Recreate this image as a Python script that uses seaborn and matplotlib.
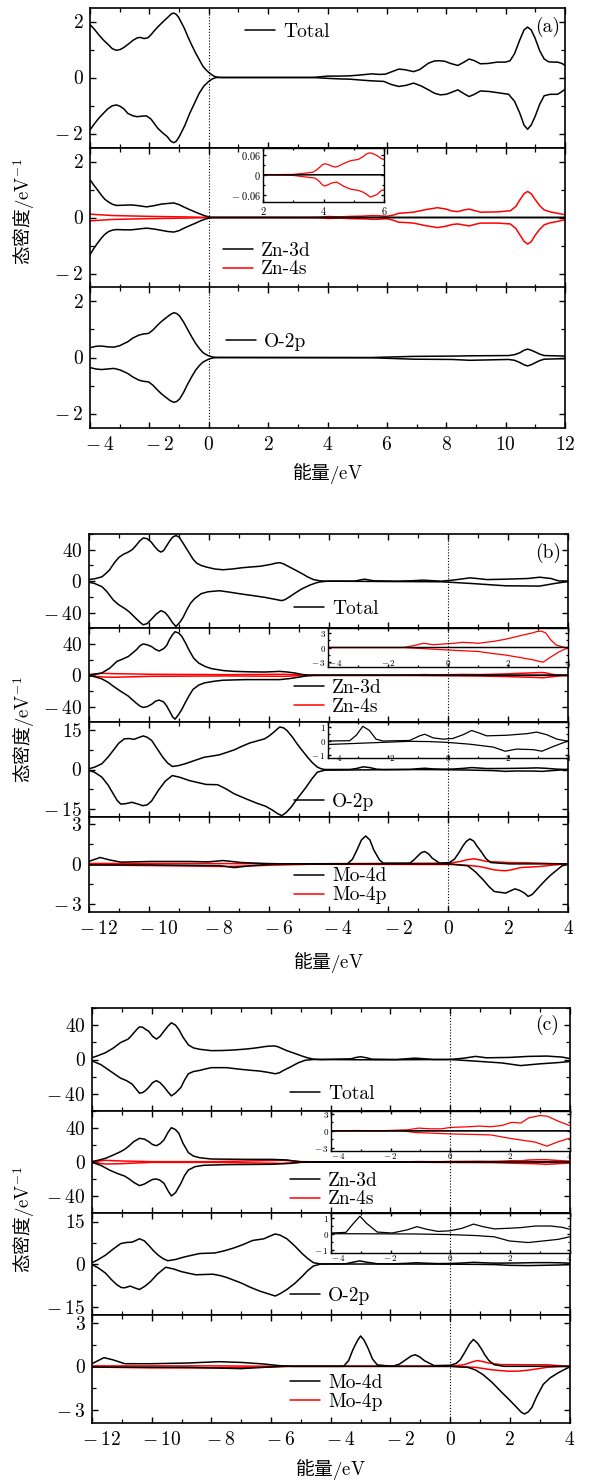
"""Spin-resolved DOS, panels (a)-(c)"""
import matplotlib
matplotlib.use('Agg')
import pandas as pd
import matplotlib.pyplot as plt
import seaborn as sns
from matplotlib.lines import Line2D
from matplotlib.ticker import MultipleLocator, FuncFormatter
from matplotlib.transforms import ScaledTranslation

# ---------------- data: (energy eV, DOS) ----------------
# panel (a)
a_tot_up = [(-4.0,1.89),(-3.85,1.72),(-3.7,1.52),(-3.55,1.34),(-3.4,1.19),(-3.25,1.03),(-3.11,0.97),(-2.98,1.0),
            (-2.85,1.08),(-2.7,1.2),(-2.55,1.33),(-2.4,1.42),(-2.3,1.43),(-2.18,1.39),(-2.05,1.42),(-1.95,1.52),
            (-1.85,1.65),(-1.72,1.80),(-1.6,1.93),(-1.46,2.07),(-1.35,2.18),(-1.25,2.28),(-1.18,2.30),(-1.1,2.26),
            (-1.02,2.16),(-0.93,1.98),(-0.82,1.75),(-0.7,1.45),(-0.57,1.15),(-0.44,0.87),(-0.3,0.6),(-0.19,0.39),
            (-0.08,0.26),(0.0,0.18),(0.1,0.1),(0.19,0.04),(0.3,0.01),(0.44,0.0),(3.5,0.0),(3.8,0.03),(4.0,0.05),
            (4.4,0.05),(4.76,0.06),(5.1,0.09),(5.5,0.13),(5.75,0.11),(5.95,0.12),(6.2,0.22),(6.4,0.3),(6.6,0.28),
            (6.9,0.21),(7.1,0.28),(7.4,0.51),(7.6,0.59),(7.75,0.6),(7.95,0.58),(8.15,0.5),(8.39,0.43),(8.6,0.55),
            (8.77,0.66),(8.95,0.6),(9.15,0.49),(9.4,0.5),(9.72,0.55),(10.0,0.55),(10.15,0.6),(10.3,0.85),
            (10.48,1.35),(10.62,1.7),(10.74,1.8),(10.86,1.7),(10.99,1.41),(11.15,0.95),(11.3,0.66),(11.45,0.56),
            (11.6,0.55),(11.75,0.55),(11.9,0.5),(12.0,0.43)]
a_tot_dn = [(-4.0,-1.87),(-3.85,-1.65),(-3.7,-1.45),(-3.55,-1.28),(-3.4,-1.12),(-3.25,-1.01),(-3.11,-0.98),
            (-2.98,-1.03),(-2.85,-1.13),(-2.73,-1.28),(-2.55,-1.37),(-2.41,-1.40),(-2.25,-1.38),(-2.1,-1.37),
            (-1.95,-1.48),(-1.85,-1.62),(-1.72,-1.81),(-1.55,-1.98),(-1.4,-2.11),(-1.28,-2.27),(-1.18,-2.33),
            (-1.1,-2.28),(-1.02,-2.16),(-0.93,-1.98),(-0.8,-1.7),(-0.64,-1.28),(-0.48,-0.92),(-0.32,-0.56),
            (-0.16,-0.3),(0.0,-0.14),(0.12,-0.05),(0.25,0.0),(3.5,0.0),(4.0,-0.03),(4.4,-0.05),(4.76,-0.06),
            (5.1,-0.09),(5.5,-0.12),(5.9,-0.14),(6.15,-0.25),(6.4,-0.32),(6.65,-0.28),(6.9,-0.2),(7.15,-0.3),
            (7.4,-0.44),(7.6,-0.56),(7.8,-0.62),(8.0,-0.6),(8.2,-0.52),(8.39,-0.44),(8.6,-0.58),(8.77,-0.68),
            (8.95,-0.6),(9.15,-0.48),(9.45,-0.5),(9.72,-0.54),(10.1,-0.6),(10.3,-0.85),(10.48,-1.28),(10.62,-1.7),
            (10.74,-1.85),(10.86,-1.7),(10.99,-1.4),(11.15,-0.95),(11.3,-0.65),(11.5,-0.6),(11.75,-0.6),
            (11.9,-0.5),(12.0,-0.42)]
a_zn3d_up = [(-4.0,1.35),(-3.88,1.17),(-3.75,0.99),(-3.62,0.8),(-3.5,0.65),(-3.37,0.55),(-3.24,0.47),(-3.11,0.43),
             (-2.85,0.44),(-2.6,0.45),(-2.35,0.42),(-2.1,0.38),(-1.85,0.42),(-1.59,0.48),(-1.38,0.5),(-1.18,0.52),
             (-1.0,0.46),(-0.83,0.37),(-0.64,0.28),(-0.44,0.19),(-0.28,0.12),(-0.13,0.06),(0.06,0.01),(0.3,0.0),
             (12.0,0.0)]
a_zn3d_dn = [(-4.0,-1.33),(-3.88,-1.12),(-3.75,-0.92),(-3.62,-0.74),(-3.5,-0.6),(-3.37,-0.5),(-3.24,-0.45),
             (-3.11,-0.43),(-2.85,-0.44),(-2.6,-0.44),(-2.35,-0.41),(-2.1,-0.38),(-1.85,-0.41),(-1.59,-0.46),
             (-1.38,-0.5),(-1.18,-0.52),(-1.0,-0.47),(-0.83,-0.38),(-0.64,-0.29),(-0.44,-0.2),(-0.28,-0.12),
             (-0.13,-0.06),(0.06,-0.01),(0.3,0.0),(12.0,0.0)]
a_zn4s_up = [(-4.0,0.12),(-3.24,0.07),(-1.97,0.04),(-0.7,0.02),(0.0,0.0),(2.0,0.0),(3.0,0.001),(3.33,0.004),
             (3.66,0.008),(3.78,0.015),(3.88,0.023),(3.96,0.03),(4.04,0.033),(4.15,0.031),(4.27,0.026),(4.4,0.023),
             (4.52,0.027),(4.65,0.033),(4.8,0.039),(4.93,0.043),(5.15,0.046),(5.3,0.054),(5.43,0.063),(5.54,0.066),
             (5.65,0.063),(5.76,0.058),(5.92,0.048),(6.0,0.046),(6.2,0.08),(6.4,0.15),(6.65,0.17),(6.9,0.19),
             (7.3,0.28),(7.7,0.35),(8.0,0.3),(8.2,0.23),(8.39,0.21),(8.6,0.27),(8.77,0.3),(8.95,0.25),(9.15,0.19),
             (9.72,0.2),(10.16,0.24),(10.35,0.4),(10.48,0.63),(10.62,0.85),(10.74,0.93),(10.86,0.85),(10.99,0.65),
             (11.15,0.42),(11.3,0.27),(11.5,0.2),(11.75,0.15),(12.0,0.1)]
a_zn4s_dn = [(-4.0,-0.12),(-3.24,-0.07),(-1.97,-0.04),(-0.7,-0.02),(0.0,0.0),(2.0,0.0),(3.0,-0.002),(3.44,-0.007),
             (3.72,-0.01),(3.8,-0.015),(3.88,-0.022),(3.96,-0.03),(4.04,-0.034),(4.15,-0.03),(4.27,-0.025),
             (4.43,-0.022),(4.55,-0.028),(4.65,-0.034),(4.8,-0.04),(4.93,-0.044),(5.15,-0.047),(5.3,-0.052),
             (5.43,-0.059),(5.54,-0.067),(5.65,-0.064),(5.76,-0.06),(5.92,-0.047),(6.0,-0.045),(6.2,-0.09),
             (6.4,-0.17),(6.65,-0.18),(6.9,-0.2),(7.3,-0.29),(7.7,-0.36),(8.0,-0.31),(8.2,-0.25),(8.39,-0.23),
             (8.6,-0.27),(8.77,-0.3),(8.95,-0.25),(9.15,-0.2),(9.72,-0.2),(10.16,-0.23),(10.35,-0.4),(10.48,-0.62),
             (10.62,-0.85),(10.74,-0.95),(10.86,-0.87),(10.99,-0.64),(11.15,-0.42),(11.3,-0.26),(11.5,-0.19),
             (11.75,-0.14),(12.0,-0.08)]
a_o2p_up = [(-4.0,0.35),(-3.8,0.4),(-3.62,0.41),(-3.4,0.38),(-3.2,0.37),(-3.0,0.42),(-2.85,0.5),(-2.73,0.56),
            (-2.55,0.7),(-2.35,0.8),(-2.2,0.84),(-2.03,0.86),(-1.88,0.98),(-1.72,1.16),(-1.6,1.28),(-1.46,1.4),
            (-1.3,1.53),(-1.18,1.6),(-1.08,1.57),(-0.98,1.48),(-0.85,1.27),(-0.7,0.98),(-0.57,0.73),(-0.44,0.5),
            (-0.3,0.3),(-0.19,0.17),(-0.08,0.1),(0.0,0.06),(0.12,0.02),(0.25,0.0),(5.5,0.0),(6.9,0.04),(8.2,0.05),
            (8.8,0.06),(10.1,0.07),(10.3,0.1),(10.48,0.17),(10.62,0.26),(10.74,0.3),(10.86,0.26),(10.99,0.2),
            (11.15,0.12),(11.3,0.07),(12.0,0.05)]
a_o2p_dn = [(-4.0,-0.36),(-3.8,-0.41),(-3.62,-0.43),(-3.4,-0.41),(-3.2,-0.39),(-3.0,-0.44),(-2.85,-0.51),
            (-2.73,-0.57),(-2.55,-0.7),(-2.35,-0.81),(-2.2,-0.85),(-2.03,-0.87),(-1.88,-0.99),(-1.72,-1.17),
            (-1.6,-1.29),(-1.46,-1.41),(-1.3,-1.54),(-1.18,-1.6),(-1.08,-1.57),(-0.98,-1.48),(-0.85,-1.25),
            (-0.7,-0.93),(-0.57,-0.68),(-0.44,-0.45),(-0.3,-0.27),(-0.19,-0.16),(-0.08,-0.1),(0.0,-0.06),
            (0.12,-0.02),(0.25,0.0),(5.5,-0.01),(6.9,-0.06),(8.2,-0.07),(8.8,-0.1),(10.1,-0.07),(10.3,-0.1),
            (10.48,-0.18),(10.62,-0.26),(10.74,-0.3),(10.86,-0.26),(10.99,-0.19),(11.15,-0.11),(11.3,-0.06),
            (12.0,-0.04)]

# panel (b)
b_tot_up = [(-12.0,2),(-11.8,3),(-11.56,5.5),(-11.45,9),(-11.31,14),(-11.15,23),(-11.0,30),(-10.85,34),(-10.68,37),
            (-10.55,40),(-10.43,45),(-10.3,51),(-10.18,55),(-10.05,54),(-9.92,50),(-9.8,44),(-9.68,39),(-9.59,37),
            (-9.5,39),(-9.4,45),(-9.3,51),(-9.2,56),(-9.09,58),(-8.98,56),(-8.88,50),(-8.78,44),(-8.65,36),
            (-8.52,28),(-8.4,23),(-8.25,20),(-8.08,18),(-7.8,15.5),(-7.52,14.5),(-7.2,15.5),(-6.9,17),(-6.6,18),
            (-6.27,19),(-5.9,21.5),(-5.75,23),(-5.63,23.5),(-5.5,22),(-5.35,19),(-5.2,16),(-5.05,13),(-4.88,9.5),
            (-4.7,5.5),(-4.5,2),(-4.3,0.5),(-4.12,0),(-3.12,0),(-2.95,1.5),(-2.8,2.5),(-2.65,1.5),(-2.49,0.4),
            (-1.73,0),(-1.2,0.5),(-0.85,1.3),(-0.5,0.5),(-0.23,0),(0.15,1.3),(0.45,2.8),(0.72,4.2),(1.0,3.2),
            (1.28,2),(1.9,2.5),(2.66,3.4),(3.04,5),(3.42,3.4),(3.67,0.4),(4.0,0)]
b_tot_dn = [(-12.0,-1.3),(-11.8,-3),(-11.56,-7),(-11.4,-13),(-11.18,-24),(-11.0,-30),(-10.81,-34.5),(-10.65,-39),
            (-10.49,-45),(-10.3,-52),(-10.18,-55.6),(-10.05,-54),(-9.92,-49),(-9.75,-42),(-9.59,-37.5),(-9.45,-40),
            (-9.34,-45),(-9.2,-53),(-9.09,-57.7),(-8.95,-52),(-8.85,-46),(-8.72,-36),(-8.6,-28),(-8.46,-22),
            (-8.25,-16),(-8.02,-13.5),(-7.64,-12.2),(-7.3,-14),(-6.9,-16.4),(-6.5,-18.5),(-6.13,-20.6),(-5.8,-23),
            (-5.56,-24.8),(-5.45,-23.5),(-5.3,-20),(-5.13,-15.6),(-4.9,-10),(-4.62,-5),(-4.4,-2),(-4.25,-0.8),
            (-4.0,0),(-2.36,-0.4),(-0.23,-0.8),(0.78,-3),(1.9,-5.9),(3.04,-6.3),(3.54,-3),(4.0,-0.4)]
b_zn3d_up = [(-12.0,0.8),(-11.8,1.5),(-11.56,3),(-11.3,9),(-11.06,17.7),(-10.85,21),(-10.68,24),(-10.55,28),
             (-10.4,33),(-10.28,38),(-10.18,40),(-10.05,39),(-9.9,36.6),(-9.77,33),(-9.65,31),(-9.5,34),(-9.4,38),
             (-9.3,46),(-9.2,52),(-9.12,55.6),(-9.0,54),(-8.9,50),(-8.78,42),(-8.65,32),(-8.5,22),(-8.33,15.6),
             (-8.1,11),(-7.89,8.4),(-7.5,6),(-7.14,5),(-6.6,4.4),(-6.13,4.2),(-5.85,4.6),(-5.63,5),(-5.4,4.3),
             (-5.13,3),(-4.9,1.2),(-4.62,0),(4.0,0)]
b_zn3d_dn = [(-12.0,-0.4),(-11.8,-1.8),(-11.56,-4.6),(-11.35,-9),(-11.18,-13.9),(-10.95,-20),(-10.68,-26.5),
             (-10.55,-31),(-10.4,-36),(-10.28,-39.5),(-10.18,-41),(-10.05,-40),(-9.9,-37),(-9.77,-33),(-9.65,-31.6),
             (-9.5,-34),(-9.4,-39),(-9.3,-46),(-9.2,-53),(-9.12,-56),(-9.0,-50),(-8.9,-44),(-8.78,-35),(-8.65,-26),
             (-8.52,-18),(-8.33,-12.5),(-8.14,-9.7),(-7.8,-7.5),(-7.52,-6.3),(-6.77,-5.5),(-5.63,-5.5),(-5.3,-4.2),
             (-5.0,-2.5),(-4.75,-0.8),(-4.5,0),(4.0,0)]
b_zn4s_up = [(-12.0,0.4),(-11.56,2.5),(-11.18,2.1),(-9.9,1.3),(-7.4,0.8),(-5.5,1.3),(-4.88,0.4),(-4.0,0),(-1.5,0),
             (-1.15,0.4),(-0.82,0.9),(-0.5,0.6),(-0.1,0.77),(0.2,0.9),(0.46,1.1),(0.8,1.0),(1.0,0.9),(1.5,1.3),
             (1.9,1.75),(2.45,2.6),(2.8,3.1),(2.95,3.4),(3.1,3.5),(3.25,3.1),(3.4,1.75),(3.6,0.5),(3.9,0),(4.0,0)]
b_zn4s_dn = [(-12.0,-0.4),(-11.56,-2.1),(-11.18,-2.5),(-9.9,-1.3),(-7.4,-0.8),(-5.5,-1.3),(-4.88,-0.4),(-4.0,0),
             (-1.5,0),(-0.93,-0.2),(-0.1,-0.5),(0.5,-0.7),(1.0,-0.85),(1.5,-1.3),(1.9,-1.6),(2.45,-2.2),(2.8,-2.6),
             (3.16,-3.15),(3.4,-2.1),(3.7,-0.9),(4.0,0)]
b_o2p_up = [(-12.0,0.25),(-11.8,0.9),(-11.56,2.2),(-11.35,4.8),(-11.18,7.3),(-11.0,10),(-10.81,11.7),(-10.65,11.8),
            (-10.49,11.5),(-10.33,12.2),(-10.18,12.8),(-10.05,12.3),(-9.9,11.1),(-9.72,8),(-9.53,4.7),(-9.37,2.5),
            (-9.21,1.15),(-9.0,1.5),(-8.78,2.2),(-8.45,3.5),(-8.14,4.7),(-7.9,5.1),(-7.64,5.6),(-7.4,6.5),(-7.14,7.5),
            (-6.9,8.8),(-6.63,10.1),(-6.38,10.9),(-6.13,11.7),(-5.98,12.8),(-5.85,14),(-5.72,15.3),(-5.63,16.2),
            (-5.5,15.9),(-5.38,14.8),(-5.2,12.3),(-5.05,9.8),(-4.88,7.3),(-4.7,4.7),(-4.53,2.5),(-4.37,0.9),
            (-4.25,0.3),(-4.12,0),(-3.28,0.02),(-3.06,0.4),(-2.84,1.02),(-2.62,0.73),(-2.4,0.13),(-2.17,0),
            (-1.28,0.04),(-0.95,0.36),(-0.78,0.47),(-0.5,0.22),(-0.17,0.13),(0.16,0.18),(0.5,0.44),(0.78,0.73),
            (1.0,0.58),(1.28,0.36),(1.95,0.4),(2.62,0.51),(2.95,0.62),(3.28,0.44),(3.62,0.13),(3.9,0.02),(4.0,0)]
b_o2p_dn = [(-12.0,-0.25),(-11.8,-1.1),(-11.56,-2.9),(-11.35,-6),(-11.18,-9.3),(-11.05,-11.8),(-10.93,-13.2),
            (-10.75,-13),(-10.56,-12.5),(-10.35,-13.2),(-10.2,-13.8),(-10.05,-13.5),(-9.9,-12),(-9.68,-8),
            (-9.45,-4.5),(-9.21,-2.3),(-8.95,-3),(-8.65,-4.2),(-8.35,-5),(-8.08,-5.7),(-7.7,-5.8),(-7.45,-7.2),
            (-7.14,-9.3),(-6.75,-11.2),(-6.38,-12.9),(-6.1,-14),(-5.87,-15.5),(-5.7,-16.8),(-5.56,-17.6),
            (-5.42,-16.5),(-5.25,-14.4),(-5.0,-10.5),(-4.75,-6.8),(-4.55,-3.5),(-4.37,-1),(-4.12,-0.25),
            (-1.28,-0.02),(-0.62,-0.04),(-0.06,-0.09),(0.72,-0.22),(1.5,-0.42),(1.9,-0.71),(2.28,-0.56),
            (2.84,-0.6),(3.12,-0.71),(3.5,-0.38),(3.84,-0.11),(4.0,0)]
b_mo4d_up = [(-12.0,0.18),(-11.62,0.48),(-11.31,0.3),(-10.93,0.13),(-9.9,0.18),(-8.65,0.18),(-8.02,0.15),(-7.52,0.25),
             (-6.9,0.1),(-6.13,0.03),(-5.5,0),(-3.37,0),(-3.2,0.35),(-3.05,1.05),(-2.9,1.8),(-2.76,2.1),(-2.62,1.8),
             (-2.49,1.05),(-2.3,0.3),(-2.17,0.05),(-1.29,0.05),(-1.15,0.3),(-1.04,0.55),(-0.9,0.85),(-0.79,0.93),
             (-0.66,0.75),(-0.54,0.43),(-0.29,0.05),(0.03,0.1),(0.2,0.35),(0.34,0.8),(0.5,1.4),(0.6,1.7),(0.72,1.88),
             (0.85,1.7),(0.95,1.35),(1.09,0.93),(1.25,0.4),(1.41,0.1),(2.04,0),(4.0,0)]
b_mo4d_dn = [(-12.0,-0.08),(-9.9,-0.08),(-7.64,-0.13),(-7.14,-0.28),(-6.63,-0.15),(-5.88,-0.03),(-5.5,0),(0.03,0),
             (0.65,-0.15),(0.9,-0.6),(1.16,-1.2),(1.35,-1.7),(1.53,-2.08),(1.75,-2.15),(1.91,-2.2),(2.05,-2.05),
             (2.22,-1.88),(2.38,-2.0),(2.54,-2.2),(2.66,-2.45),(2.8,-2.3),(3.04,-1.7),(3.25,-1.2),(3.42,-0.83),
             (3.6,-0.5),(3.79,-0.15),(4.0,-0.03)]
b_mo4p_up = [(-12.0,0.03),(-8.0,0.03),(-5.5,0),(-0.48,0.05),(0.1,0.08),(0.4,0.18),(0.6,0.3),(0.84,0.38),(1.05,0.3),
             (1.28,0.18),(2.0,0.1),(2.66,0.08),(3.5,0.02),(4.0,0)]
b_mo4p_dn = [(-12.0,-0.08),(-9.9,-0.13),(-7.4,-0.2),(-5.88,-0.1),(-4.6,-0.03),(0.15,-0.05),(0.6,-0.1),(1.03,-0.2),
             (1.3,-0.33),(1.53,-0.45),(1.75,-0.5),(1.91,-0.52),(2.1,-0.45),(2.41,-0.28),(3.04,-0.2),(3.54,-0.08),(4.0,0)]

# panel (c)
c_tot_up = [(-12.0,2),(-11.8,4.5),(-11.55,7.9),(-11.3,13),(-11.04,19.8),(-10.9,22),(-10.79,23.8),(-10.7,27),
            (-10.6,31),(-10.5,35),(-10.41,38),(-10.3,37.5),(-10.2,35),(-10.1,32.9),(-9.97,27),(-9.84,23.8),
            (-9.72,27),(-9.59,32.9),(-9.45,39),(-9.34,42.8),(-9.2,40),(-9.09,34.9),(-8.95,26),(-8.77,17),
            (-8.6,13.5),(-8.39,11.9),(-8.0,10.3),(-7.6,10.5),(-7.25,11.1),(-6.9,12),(-6.62,13),(-6.4,14),(-6.22,15),
            (-6.05,15.6),(-5.9,15.8),(-5.78,15),(-5.65,13),(-5.47,10.3),(-5.2,7),(-4.96,4),(-4.78,2),(-4.58,0.4),
            (-4.33,0),(-3.32,0.8),(-3.15,2.4),(-3.0,3.2),(-2.8,2),(-2.62,0.4),(-1.8,0),(-1.17,1.6),(-0.54,0),
            (0.0,0),(0.47,1.6),(0.85,3.6),(1.22,2),(1.98,2.4),(2.61,3.6),(3.24,4),(3.75,2.8),(4.0,1.2)]
c_tot_dn = [(-12.0,-1.6),(-11.7,-6),(-11.42,-12.7),(-11.2,-18),(-11.04,-21.8),(-10.85,-24.5),(-10.66,-28.5),
            (-10.53,-34),(-10.41,-39.2),(-10.3,-38.5),(-10.2,-36),(-10.1,-32.5),(-9.97,-27),(-9.84,-24.6),
            (-9.72,-27),(-9.59,-31.7),(-9.45,-38),(-9.34,-42.4),(-9.2,-39),(-9.02,-32.5),(-8.9,-24),(-8.77,-16.6),
            (-8.6,-14),(-8.39,-12.7),(-8.2,-11),(-8.0,-9.5),(-7.5,-9.5),(-7.0,-11.5),(-6.7,-12.5),(-6.37,-13.5),
            (-6.1,-15),(-5.86,-16.6),(-5.72,-15.5),(-5.6,-13),(-5.35,-8.7),(-5.1,-4),(-4.85,-0.8),(-4.58,0),
            (-2.44,-0.4),(0.0,0),(0.72,-1.6),(1.73,-4),(2.36,-7.1),(2.99,-5.1),(3.62,-3.6),(4.0,-2.4)]
c_zn3d_up = [(-12.0,0.4),(-11.8,2),(-11.55,4.3),(-11.3,8),(-11.04,12.2),(-10.9,15),(-10.79,18),(-10.6,24),
             (-10.41,27.8),(-10.25,27),(-10.1,24),(-9.97,20.5),(-9.84,19.2),(-9.72,21.5),(-9.59,25.9),(-9.45,35),
             (-9.34,40.4),(-9.2,38),(-9.09,33.7),(-8.95,22),(-8.77,11),(-8.6,7),(-8.39,5),(-8.0,3.5),(-6.86,3.1),
             (-5.98,3.1),(-5.47,2.4),(-5.2,1),(-4.96,0),(4.0,0)]
c_zn3d_dn = [(-12.0,-0.4),(-11.7,-4),(-11.42,-9.4),(-11.15,-13.5),(-10.91,-16.5),(-10.75,-20),(-10.6,-24),
             (-10.41,-27.8),(-10.25,-26),(-10.1,-23),(-9.97,-20.5),(-9.84,-20),(-9.72,-21.5),(-9.59,-25),(-9.45,-34),
             (-9.34,-40),(-9.2,-36),(-9.02,-25),(-8.9,-16),(-8.77,-9.4),(-8.55,-5.5),(-8.26,-3.9),(-7.5,-3.1),
             (-5.98,-2.7),(-5.34,-1.6),(-4.96,0),(4.0,0)]
c_zn4s_up = [(-12.0,0.4),(-11.55,2),(-11.04,1.2),(-10.0,0.4),(-8.0,0.4),(-5.6,2),(-4.96,0.4),(-4.0,0),(-3.1,0.06),
             (-2.45,0),(-1.44,0.18),(-1.06,0.48),(-0.67,0.36),(-0.29,0.36),(0.0,0.6),(0.6,0.72),(0.98,0.84),
             (1.36,0.72),(1.74,0.96),(2.06,1.5),(2.37,1.38),(2.63,2.28),(3.0,2.7),(3.26,2.58),(3.63,1.68),(4.0,0.96)]
c_zn4s_dn = [(-12.0,-0.4),(-11.55,-2.4),(-11.04,-2),(-10.0,-0.4),(-8.0,-0.4),(-5.6,-1.6),(-4.96,-0.4),(-4.0,0),
             (-1.6,0),(-1.17,-0.3),(-0.54,-0.42),(0.0,-0.54),(0.98,-0.66),(1.36,-0.72),(1.98,-1.3),(2.61,-1.8),
             (2.86,-2.0),(3.24,-2.7),(3.63,-1.9),(4.0,-1.3)]
c_o2p_up = [(-12.0,0.46),(-11.8,1.5),(-11.55,3.1),(-11.3,5.2),(-11.04,7.2),(-10.85,7.6),(-10.66,7.7),(-10.53,8.3),
            (-10.41,8.9),(-10.25,8.2),(-10.1,6.6),(-9.95,4.8),(-9.78,3.1),(-9.62,1.9),(-9.46,1.15),(-9.2,1.6),
            (-8.9,2.5),(-8.65,3.1),(-8.39,3.7),(-7.88,3.9),(-7.55,4.7),(-7.25,5.65),(-6.95,6.8),(-6.62,8.3),
            (-6.24,8.9),(-6.05,9.8),(-5.86,10.6),(-5.7,10.2),(-5.47,8.9),(-5.2,6.3),(-4.96,3.7),(-4.78,2),
            (-4.58,0.46),(-4.33,0),(-4.0,0.04),(-3.5,0.08),(-3.25,0.64),(-3.03,1.1),(-2.8,0.64),(-2.45,0.1),
            (-1.95,0.04),(-1.44,0.24),(-1.12,0.44),(-0.8,0.28),(-0.42,0.14),(0.0,0.18),(0.4,0.34),(0.78,0.6),
            (1.1,0.44),(1.48,0.3),(1.98,0.34),(2.36,0.38),(2.86,0.48),(3.37,0.48),(3.75,0.4),(4.0,0.28)]
c_o2p_dn = [(-12.0,-0.23),(-11.8,-1.3),(-11.55,-3.2),(-11.35,-5.5),(-11.17,-7.3),(-11.02,-8.3),(-10.91,-8.4),
            (-10.72,-7.8),(-10.55,-8.5),(-10.41,-9),(-10.22,-7.8),(-10.03,-6.1),(-9.8,-3.5),(-9.53,-1.15),
            (-9.25,-1.8),(-9.02,-2.65),(-8.75,-3.3),(-8.52,-3.8),(-7.95,-3.6),(-7.7,-4.1),(-7.5,-4.7),(-7.25,-5.7),
            (-7.0,-6.7),(-6.7,-8.2),(-6.37,-9.6),(-6.1,-10.5),(-5.86,-11.3),(-5.7,-10.5),(-5.47,-9),(-5.2,-6.8),
            (-4.96,-4.4),(-4.78,-2.4),(-4.58,-0.7),(-4.33,0),(-1.2,-0.02),(0.0,-0.06),(0.85,-0.12),(1.48,-0.2),
            (1.98,-0.46),(2.61,-0.56),(3.12,-0.46),(3.62,-0.36),(4.0,-0.2)]
c_mo4d_up = [(-12.0,0.18),(-11.6,0.6),(-11.3,0.45),(-10.9,0.18),(-10.0,0.18),(-8.77,0.23),(-7.76,0.32),(-7.0,0.27),
             (-6.24,0.16),(-5.74,0.05),(-5.3,0),(-3.57,0),(-3.4,0.4),(-3.26,1.14),(-3.1,1.8),(-3.0,2.1),(-2.88,1.8),
             (-2.75,1.25),(-2.6,0.5),(-2.44,0.1),(-1.93,0),(-1.7,0.15),(-1.49,0.45),(-1.3,0.72),(-1.17,0.8),
             (-1.02,0.65),(-0.86,0.39),(-0.54,0.05),(0.0,0.07),(0.2,0.2),(0.34,0.45),(0.5,1.0),(0.65,1.55),
             (0.78,1.86),(0.92,1.6),(1.05,1.2),(1.16,0.8),(1.3,0.4),(1.48,0.11),(1.8,0),(4.0,0)]
c_mo4d_dn = [(-12.0,-0.05),(-8.77,-0.07),(-7.0,-0.16),(-6.24,-0.07),(-5.6,0),(0.0,0),(0.59,-0.07),(0.85,-0.25),
             (1.1,-0.57),(1.4,-1.1),(1.73,-1.8),(2.0,-2.35),(2.23,-2.84),(2.37,-3.15),(2.49,-3.3),(2.62,-3.15),
             (2.74,-2.84),(2.9,-2.1),(3.12,-1.25),(3.35,-0.8),(3.62,-0.45),(3.85,-0.2),(4.0,-0.05)]
c_mo4p_up = [(-12.0,0.03),(-8.0,0.03),(-5.6,0),(0.0,0),(0.47,0.11),(0.7,0.28),(0.91,0.4),(1.1,0.33),(1.29,0.23),
             (1.7,0.12),(2.5,0.11),(3.24,0.11),(3.6,0.05),(4.0,0)]
c_mo4p_dn = [(-12.0,-0.05),(-10.0,-0.11),(-8.0,-0.11),(-6.0,-0.05),(-5.4,0),(0.0,0),(0.85,-0.07),(1.36,-0.23),
             (1.7,-0.3),(1.98,-0.34),(2.3,-0.33),(2.61,-0.27),(3.0,-0.15),(3.24,-0.07),(3.6,-0.03),(4.0,0)]

# ---------------- style ----------------
sns.set_style('ticks')
plt.rcParams.update({
    'font.family': ['cmr10', 'Noto Sans CJK SC', 'DejaVu Sans'],
    'mathtext.fontset': 'cm',
    'axes.unicode_minus': False,
    'axes.edgecolor': 'black', 'axes.linewidth': 1.2,
    'text.color': 'black', 'xtick.color': 'black', 'ytick.color': 'black',
    'xtick.direction': 'in', 'ytick.direction': 'in',
    'xtick.top': True, 'ytick.right': True,
    'xtick.major.size': 4.5, 'ytick.major.size': 4.5,
    'xtick.minor.size': 2.8, 'ytick.minor.size': 2.8,
    'xtick.major.width': 1.0, 'ytick.major.width': 1.0,
    'xtick.minor.width': 0.9, 'ytick.minor.width': 0.9,
})
CJK = ['Noto Sans CJK SC']
W, H = 591, 1483
fig = plt.figure(figsize=(W / 100, H / 100), dpi=100)


def px_box(left, top, right, bottom):
    return [left / W, 1 - bottom / H, (right - left) / W, (bottom - top) / H]


def tex(v, pos=None):
    v = round(v, 6)
    if v == 0:
        return '$0$'
    if v < 0:
        return f'$-\\:{-v:g}$'
    return f'${v:g}$'


def curve(ax, pts, color, lw=1.1):
    df = pd.DataFrame(pts, columns=['E', 'DOS'])
    sns.lineplot(data=df, x='E', y='DOS', ax=ax, color=color, lw=lw,
                 estimator=None, sort=False, legend=False)


def frame(ax, xlim, ylim, ystep, xstep=2, show_x=False, size=14, pad=4.5, xpad=6):
    ax.set_xlim(xlim)
    ax.set_ylim(ylim)
    ax.xaxis.set_major_locator(MultipleLocator(xstep))
    ax.xaxis.set_minor_locator(MultipleLocator(xstep / 2))
    ax.yaxis.set_major_locator(MultipleLocator(ystep))
    ax.yaxis.set_minor_locator(MultipleLocator(ystep / 2))
    ax.xaxis.set_major_formatter(FuncFormatter(tex))
    ax.yaxis.set_major_formatter(FuncFormatter(tex))
    ax.set_xlabel('')
    ax.set_ylabel('')
    ax.tick_params(which='both', labelsize=size, pad=pad)
    ax.tick_params(axis='x', labelbottom=show_x, pad=xpad)
    ax.set_facecolor('white')


def vline(ax):
    ax.axvline(0, color='black', lw=0.8, ls=(0, (1, 1.6)), zorder=5)


def legend(ax, names, colors, x, y):
    handles = [Line2D([], [], color=c, lw=1.1) for c in colors]
    ax.legend(handles, names, loc='center left', bbox_to_anchor=(x / W, 1 - y / H),
              bbox_transform=fig.transFigure, frameon=False, handlelength=1.55,
              handletextpad=0.4, labelspacing=0.05, borderpad=0, borderaxespad=0,
              prop={'family': 'cmr10', 'size': 14})


def inset(box, xlim, ylim, ystep, series, xpad, size=6.5, xstep=2):
    ins = fig.add_axes(box)
    for pts, col in series:
        curve(ins, pts, col, lw=0.9)
    frame(ins, xlim, ylim, ystep, xstep=xstep, show_x=True, size=size, pad=1.5, xpad=xpad)
    ins.tick_params(which='major', length=2.5)
    ins.tick_params(which='minor', length=1.5)
    for s in ins.spines.values():
        s.set_linewidth(1.0)
    return ins


RED, BLK = 'red', 'black'
bottoms = []
insets_neg = []

# ---------------- panel (a) ----------------
a_rows = [(7.5, 147.5), (147.5, 287.5), (287.5, 427.5)]
a_sets = [
    ([(a_tot_up, BLK), (a_tot_dn, BLK)], ['Total'], [BLK], (245, 32)),
    ([(a_zn4s_up, RED), (a_zn4s_dn, RED), (a_zn3d_up, BLK), (a_zn3d_dn, BLK)],
     ['Zn-3d', 'Zn-4s'], [BLK, RED], (223, 260)),
    ([(a_o2p_up, BLK), (a_o2p_dn, BLK)], ['O-2p'], [BLK], (226, 342)),
]
for i, ((top, bot), (series, names, cols, (lx, ly))) in enumerate(zip(a_rows, a_sets)):
    ax = fig.add_axes(px_box(90, top, 565, bot))
    for pts, col in series:
        curve(ax, pts, col)
    frame(ax, (-4, 12), (-2.5, 2.5), 2, show_x=(i == 2))
    vline(ax)
    legend(ax, names, cols, lx, ly)
    if i == 2:
        bottoms.append(ax)
inset(px_box(263, 147.5, 384, 202), (2, 6), (-0.082, 0.082), 0.06,
      [(a_zn4s_up, RED), (a_zn4s_dn, RED), (a_zn3d_up, BLK), (a_zn3d_dn, BLK)], xpad=2, size=7.5)

fig.text(548 / W, 1 - 27 / H, '(a)', ha='center', va='center', fontsize=14, family='cmr10')
fig.text(24 / W, 1 - 212 / H, '态密度$/\\mathrm{eV}^{-1}$', rotation=90, ha='center', va='center',
         fontsize=13.5, family=CJK)
fig.text(327 / W, 1 - 474 / H, '能量$/\\mathrm{eV}$', ha='center', va='center', fontsize=13.5, family=CJK)


# ---------------- panels (b) and (c) ----------------
def doped_panel(left, right, rows, ylims, d, leg_x, leg_y, tag, tag_xy, in_boxes, in_ylims, in_pads,
                ylab_y, xlab_y):
    sets = [
        ([(d['tot_up'], BLK), (d['tot_dn'], BLK)], ['Total'], [BLK], 40),
        ([(d['zn4s_up'], RED), (d['zn4s_dn'], RED), (d['zn3d_up'], BLK), (d['zn3d_dn'], BLK)],
         ['Zn-3d', 'Zn-4s'], [BLK, RED], 40),
        ([(d['o2p_up'], BLK), (d['o2p_dn'], BLK)], ['O-2p'], [BLK], 15),
        ([(d['mo4p_up'], RED), (d['mo4p_dn'], RED), (d['mo4d_up'], BLK), (d['mo4d_dn'], BLK)],
         ['Mo-4d', 'Mo-4p'], [BLK, RED], 3),
    ]
    for i, ((top, bot), ylim, (series, names, cols, step), ly) in enumerate(zip(rows, ylims, sets, leg_y)):
        ax = fig.add_axes(px_box(left, top, right, bot))
        for pts, col in series:
            curve(ax, pts, col)
        frame(ax, (-12, 4), ylim, step, show_x=(i == 3))
        vline(ax)
        legend(ax, names, cols, leg_x, ly)
        if i == 3:
            bottoms.append(ax)
    ins = inset(in_boxes[0], (-4, 4), in_ylims[0], 3,
                [(d['zn4s_up'], RED), (d['zn4s_dn'], RED), (d['zn3d_up'], BLK), (d['zn3d_dn'], BLK)],
                xpad=in_pads[0])
    vline(ins)
    insets_neg.append(ins)
    ins = inset(in_boxes[1], (-4, 4), in_ylims[1], 1, [(d['o2p_up'], BLK), (d['o2p_dn'], BLK)],
                xpad=in_pads[1])
    vline(ins)
    insets_neg.append(ins)
    fig.text(tag_xy[0] / W, 1 - tag_xy[1] / H, tag, ha='center', va='center', fontsize=14, family='cmr10')
    fig.text(24 / W, 1 - ylab_y / H, '态密度$/\\mathrm{eV}^{-1}$', rotation=90, ha='center', va='center',
             fontsize=13.5, family=CJK)
    fig.text((left + right) / 2 / W, 1 - xlab_y / H, '能量$/\\mathrm{eV}$', ha='center', va='center',
             fontsize=13.5, family=CJK)


b_data = dict(tot_up=b_tot_up, tot_dn=b_tot_dn, zn3d_up=b_zn3d_up, zn3d_dn=b_zn3d_dn, zn4s_up=b_zn4s_up,
              zn4s_dn=b_zn4s_dn, o2p_up=b_o2p_up, o2p_dn=b_o2p_dn, mo4d_up=b_mo4d_up, mo4d_dn=b_mo4d_dn,
              mo4p_up=b_mo4p_up, mo4p_dn=b_mo4p_dn)
c_data = dict(tot_up=c_tot_up, tot_dn=c_tot_dn, zn3d_up=c_zn3d_up, zn3d_dn=c_zn3d_dn, zn4s_up=c_zn4s_up,
              zn4s_dn=c_zn4s_dn, o2p_up=c_o2p_up, o2p_dn=c_o2p_dn, mo4d_up=c_mo4d_up, mo4d_dn=c_mo4d_dn,
              mo4p_up=c_mo4p_up, mo4p_dn=c_mo4p_dn)

doped_panel(88.7, 568.3, [(534, 628.3), (628.3, 722.3), (722.3, 816.7), (816.7, 911.7)],
            [(-60, 60), (-60, 60), (-18, 18), (-3.6, 3.55)], b_data, 294, [609, 697.5, 802, 886],
            '(b)', (548, 553),
            [px_box(328, 628.3, 568.3, 666.7), px_box(328, 722.3, 568.3, 758.3)],
            [(-4.1, 4.1), (-1.2, 1.3)], [-6, -4], 730, 962)

doped_panel(92, 569.5, [(1008, 1111), (1111, 1213), (1213, 1315), (1315, 1422.7)],
            [(-60, 60), (-60, 60), (-18, 18), (-3.9, 3.55)], c_data, 290, [1094, 1190, 1296, 1392.5],
            '(c)', (547, 1025),
            [px_box(331, 1111, 569.5, 1150.7), px_box(331, 1213, 569.5, 1252.7)],
            [(-3.5, 3.5), (-1.2, 1.3)], [0.5, 0.5], 1220, 1470)

# negative energy labels sit to the right of their ticks, as in the original
fig.canvas.draw()
shift = ScaledTranslation(10 / 100, 0, fig.dpi_scale_trans)
for ax in bottoms:
    for t in ax.xaxis.get_major_ticks():
        if t.get_loc() < -1e-6:
            t.label1.set_transform(t.label1.get_transform() + shift)
# leftmost inset label starts at the inset frame
edge = ScaledTranslation(8 / 100, 0, fig.dpi_scale_trans)
for ax in insets_neg:
    for t in ax.xaxis.get_major_ticks():
        if abs(t.get_loc() + 4) < 1e-6:
            t.label1.set_transform(t.label1.get_transform() + edge)

fig.savefig('out.png', dpi=100)
